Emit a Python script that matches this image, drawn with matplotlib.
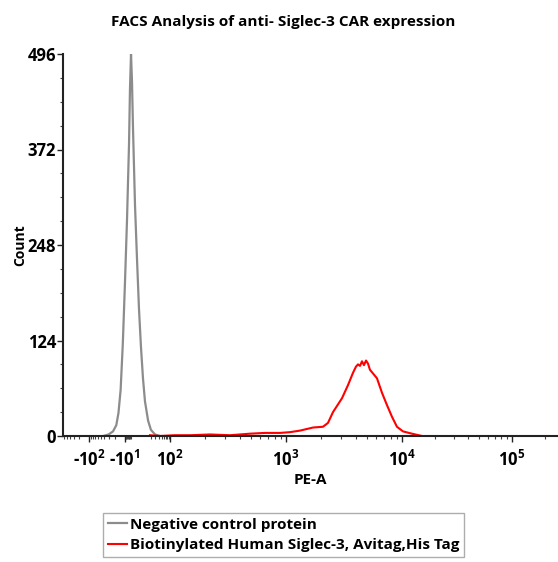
import numpy as np
import matplotlib
matplotlib.use('Agg')
import matplotlib.pyplot as plt
from matplotlib.ticker import FixedLocator, MultipleLocator

plt.rcParams['font.family'] = ['Open Sans', 'DejaVu Sans']
plt.rcParams['font.weight'] = 'bold'
plt.rcParams['mathtext.fontset'] = 'custom'
plt.rcParams['mathtext.rm'] = 'Open Sans:bold'
plt.rcParams['mathtext.bf'] = 'Open Sans:bold'

# Negative control (grey) histogram: PE-A value vs count
neg_x = [-43.0, -30.8, -23.4, -18.9, -16.3, -14.0, -11.9, -10.0, -7.1, -4.5,
         -3.4, -2.2, -1.1, 0.0, 1.63, 3.3, 5.05, 6.95, 9.0, 11.3,
         15.5, 20.2, 28.9, 44.1]
neg_count = [0, 2, 6, 14, 30, 60, 120, 200, 280, 380,
             450, 496, 460, 400, 300, 230, 165, 115, 75, 45,
             20, 8, 2, 0]

# Biotinylated Human Siglec-3 (red) histogram
pos_x = [18.6, 44, 110, 149, 221, 329, 489, 659, 888, 1083, 1321, 1710, 2084,
         2302, 2542, 3039, 3423, 3781, 4011, 4178, 4346, 4520, 4702, 4898, 5094,
         5296, 6086, 6730, 7430, 8200, 9050, 10210, 12330, 15200]
pos_count = [1, 0, 1, 1, 2, 1, 3, 4, 4, 5, 7, 11, 12,
             17, 31, 49, 66, 82, 90, 93, 91, 97, 92, 98, 94,
             86, 75, 56, 40, 25, 12, 6, 3, 0]

y_ticks = [0, 124, 248, 372, 496]
x_ticks = [-100, -10, 100, 1000, 10000, 100000]
x_tick_labels = ['-$10^{2}$', '-$10^{1}$', '$10^{2}$', '$10^{3}$', '$10^{4}$', '$10^{5}$']

# biexponential-like display: anchors of the axis transform
scale_vals = np.array([-10000, -1000, -100, -10, 0, 100, 1000, 10000, 100000, 1000000])
scale_pos = np.array([26, 57, 89, 125, 133, 170, 286, 402, 512, 622], dtype=float)
scale_g = np.arcsinh(scale_vals / 10.0)


def fwd(x):
    return np.interp(np.arcsinh(np.asarray(x, dtype=float) / 10.0), scale_g, scale_pos)


def inv(p):
    return 10.0 * np.sinh(np.interp(np.asarray(p, dtype=float), scale_pos, scale_g))


fig = plt.figure(figsize=(5.58, 5.62), dpi=100)
ax = fig.add_axes([63 / 558, 126 / 562, 495 / 558, 382 / 562])
ax.set_xscale('function', functions=(fwd, inv))

ax.plot(neg_x, neg_count, color='#8c8c8c', lw=1.6, label='Negative control protein')
ax.plot(pos_x, pos_count, color='#ff0000', lw=1.5,
        label='Biotinylated Human Siglec-3, Avitag,His Tag')

ax.set_xlim(inv(63), 262144)
ax.set_ylim(0, 496)

ax.xaxis.set_major_locator(FixedLocator(x_ticks))
ax.set_xticklabels(x_tick_labels)
minor = [-d * 10 ** k for k in (0, 1, 2) for d in range(2, 10)]
minor += [d * 10 ** k for k in (1, 2, 3, 4) for d in range(2, 10)] + [200000]
ax.xaxis.set_minor_locator(FixedLocator(minor))
ax.yaxis.set_major_locator(FixedLocator(y_ticks))
ax.yaxis.set_minor_locator(MultipleLocator(31))

for s in ('top', 'right'):
    ax.spines[s].set_visible(False)
for s in ('left', 'bottom'):
    ax.spines[s].set_linewidth(1.5)
    ax.spines[s].set_color('#222222')

ax.tick_params(axis='both', which='major', length=4, width=1, color='#222222')
ax.tick_params(axis='both', which='minor', length=2.5, width=0.8, color='#444444')
ax.tick_params(axis='x', which='major', labelsize=12, pad=6)
ax.tick_params(axis='y', which='major', labelsize=12, pad=1)

ax.set_xlabel('PE-A', fontsize=11, fontweight='bold', labelpad=2)
ax.set_ylabel('Count', fontsize=10, fontweight='bold', labelpad=0)

fig.text(0.507, 1 - 22 / 562, 'FACS Analysis of anti- Siglec-3 CAR expression',
         ha='center', va='center', fontsize=11, fontweight='bold')

fig.legend(loc='upper left', bbox_to_anchor=(103 / 558, 1 - 513 / 562),
           frameon=True, fancybox=False, edgecolor='#999999', fontsize=11,
           handlelength=1.3, handletextpad=0.15, borderpad=0.3, labelspacing=0.45,
           borderaxespad=0)

fig.savefig('out.png', dpi=100)
